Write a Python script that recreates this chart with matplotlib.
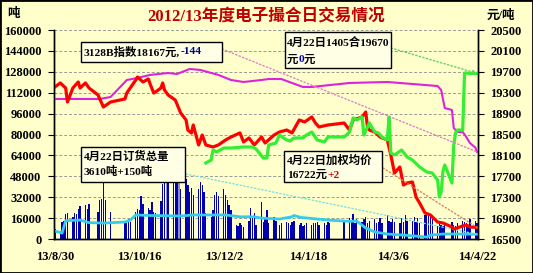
import matplotlib
matplotlib.use('Agg')
import matplotlib.pyplot as plt
import pandas as pd
from matplotlib.patches import Rectangle

W, H = 533, 273
fam = ['Liberation Serif', 'Noto Sans CJK SC']

start = pd.Timestamp('2013-08-30')
end = pd.Timestamp('2014-04-22')

# exchange holidays (no trading)
holidays = ['2013-09-19', '2013-09-20', '2013-10-01', '2013-10-02', '2013-10-03',
            '2013-10-04', '2013-10-07', '2014-01-01', '2014-01-31', '2014-02-03',
            '2014-02-04', '2014-02-05', '2014-02-06', '2014-04-07']

# daily volume (tons), one value per trading day
volume = [8000,
          6000, 13000, 14000, 19000, 20000,
          17000, 20000, 19000, 23000, 25000,
          26000, 23000, 27000,
          21000, 30000, 31000, 47000, 30000,
          21000,
          14000, 12000, 15000, 13000,
          21000, 23000, 22000, 33000, 27000,
          24000, 22000, 28000, 21000, 20000,
          29000, 42000, 45000, 52000, 44000,
          45000, 43000, 46000, 50000, 38000,
          46000, 41000, 36000, 39000, 34000,
          38000, 44000, 41000, 36000, 20000,
          17000, 22000, 34000, 36000, 33000,
          38000, 34000, 30000, 26000, 22000,
          11000, 10000, 12000, 11000, 9000,
          14000, 24000, 17000, 20000, 11000,
          28000, 13000, 16000, 22000, 12000,
          17000, 14000, 11000, 12000,
          13000, 12000, 11000, 13000, 14000,
          11000, 12000, 10000, 11000, 12000,
          11000, 12000, 12000, 13000, 11000,
          12000, 11000, 13000, 12000,
          13000,
          16000, 14000, 19000, 12000, 15000,
          13000, 15000, 17000, 12000, 14000,
          15000, 12000, 13000, 16000, 12000,
          18000, 14000, 13000, 15000, 13000,
          12000, 16000, 13000, 18000, 14000,
          14000, 17000, 13000, 16000, 12000,
          18000, 20000, 19000, 17000, 15000,
          10000, 12000, 11000, 10000, 12000,
          13000, 11000, 10000, 12000,
          14000, 13000, 12000, 11000, 15000,
          14000, 12000]

# total orders (tons), left axis
oi_dates = ['2013-08-30', '2013-09-02', '2013-09-03', '2013-09-05', '2013-09-13', '2013-09-18',
            '2013-09-26', '2013-10-08', '2013-10-11', '2013-10-14', '2013-10-22', '2013-11-01',
            '2013-11-08', '2013-11-15', '2013-12-03', '2013-12-11', '2013-12-19', '2013-12-23',
            '2014-01-02', '2014-01-09', '2014-01-10', '2014-01-14', '2014-01-29', '2014-02-10',
            '2014-02-14', '2014-02-19', '2014-02-24', '2014-03-03', '2014-03-12', '2014-03-25',
            '2014-03-27', '2014-04-03', '2014-04-14', '2014-04-22']
oi_vals = [6000, 5000, 4500, 14000, 14500, 12500, 12200, 13000, 14500, 18400, 18000, 17800,
           17600, 18400, 18400, 17000, 17000, 16000, 15300, 17000, 18000, 16500, 14500, 13500,
           13800, 8400, 5400, 3800, 3000, 1500, 3000, 3800, 3800, 3610]

# weighted average price (yuan/ton), right axis
price_dates = ['2013-08-30', '2013-09-02', '2013-09-05', '2013-09-06', '2013-09-09', '2013-09-12',
               '2013-09-13', '2013-09-16', '2013-09-18', '2013-09-23', '2013-09-26', '2013-09-30',
               '2013-10-08', '2013-10-09', '2013-10-14', '2013-10-15', '2013-10-18', '2013-10-21',
               '2013-10-22', '2013-10-24', '2013-10-25', '2013-10-28', '2013-10-29', '2013-10-30',
               '2013-11-01', '2013-11-05', '2013-11-08', '2013-11-11', '2013-11-12', '2013-11-14',
               '2013-11-15', '2013-11-18', '2013-11-20', '2013-11-22', '2013-11-26', '2013-11-29',
               '2013-12-03', '2013-12-06', '2013-12-11', '2013-12-13', '2013-12-16', '2013-12-19',
               '2013-12-23', '2013-12-25', '2013-12-30', '2014-01-02', '2014-01-06', '2014-01-09',
               '2014-01-13', '2014-01-16', '2014-01-20', '2014-01-22', '2014-01-24', '2014-01-29',
               '2014-02-07', '2014-02-10', '2014-02-12', '2014-02-17', '2014-02-19', '2014-02-20',
               '2014-02-21', '2014-02-24', '2014-02-27', '2014-03-03', '2014-03-05', '2014-03-07',
               '2014-03-10', '2014-03-12', '2014-03-14', '2014-03-17', '2014-03-19', '2014-03-21',
               '2014-03-24', '2014-03-27', '2014-03-31', '2014-04-03', '2014-04-08', '2014-04-09',
               '2014-04-14', '2014-04-16', '2014-04-18', '2014-04-22']
price_vals = [19410, 19486, 19390, 19122, 19390, 19505, 19390, 19486, 19390, 19256, 19026, 19122,
              19180, 19294, 19543, 19600, 19505, 19562, 19467, 19294, 19313, 19390, 19486, 19352,
              19256, 19160, 18912, 18778, 18586, 18528, 18682, 18300, 18490, 18300, 18261, 18300,
              18395, 18452, 18530, 18357, 18433, 18300, 18452, 18337, 18490, 18548, 18586, 18530,
              18778, 18740, 18835, 18720, 18644, 18682, 18720, 18586, 18778, 18835, 18930, 18644,
              18586, 18548, 18452, 18395, 18108, 17763, 17878, 17533, 17572, 17591, 17304, 17189,
              16998, 16960, 16825, 16806, 16730, 16690, 16749, 16768, 16730, 16722]

# 1405 contract
fut_dates = ['2013-11-22', '2013-11-25', '2013-11-26', '2013-11-28', '2013-12-02', '2013-12-06',
             '2013-12-13', '2013-12-18', '2013-12-20', '2013-12-24', '2013-12-26', '2013-12-27',
             '2013-12-31', '2014-01-02', '2014-01-06', '2014-01-08', '2014-01-10', '2014-01-15',
             '2014-01-17', '2014-01-20', '2014-01-23', '2014-01-27', '2014-01-29', '2014-02-07',
             '2014-02-10', '2014-02-12', '2014-02-14', '2014-02-17', '2014-02-18', '2014-02-21',
             '2014-02-24', '2014-02-26', '2014-02-28', '2014-03-03', '2014-03-04', '2014-03-05',
             '2014-03-07', '2014-03-11', '2014-03-14', '2014-03-17', '2014-03-21', '2014-03-25',
             '2014-03-28', '2014-03-31', '2014-04-01', '2014-04-02', '2014-04-03', '2014-04-04',
             '2014-04-08', '2014-04-09', '2014-04-10', '2014-04-11', '2014-04-14', '2014-04-15',
             '2014-04-16', '2014-04-17', '2014-04-18', '2014-04-21', '2014-04-22']
fut_vals = [17955, 18012, 18203, 18165, 18241, 18241, 18261, 18261, 18222, 18050, 18050, 18300,
            18337, 18490, 18395, 18376, 18433, 18433, 18490, 18548, 18395, 18357, 18452, 18452,
            18548, 18816, 18778, 18835, 18490, 18720, 18548, 18530, 18452, 18395, 18835, 18146,
            18108, 18203, 18070, 18012, 17878, 17782, 17763, 17629, 17304, 17400, 17800, 17916,
            17572, 18300, 18530, 18586, 18586, 19677, 19677, 19670, 19670, 19670, 19670]

# 3128B index
idx_dates = ['2013-08-30', '2013-09-24', '2013-09-30', '2013-10-08', '2013-10-09', '2013-10-15',
             '2013-10-22', '2013-11-01', '2013-11-06', '2013-11-13', '2013-11-19', '2013-11-29',
             '2013-12-06', '2013-12-13', '2013-12-23', '2013-12-27', '2014-01-03', '2014-01-15',
             '2014-01-20', '2014-02-10', '2014-03-03', '2014-03-17', '2014-03-31', '2014-04-02',
             '2014-04-04', '2014-04-08', '2014-04-09', '2014-04-11', '2014-04-14', '2014-04-16',
             '2014-04-18', '2014-04-21', '2014-04-22']
idx_vals = [19180, 19180, 19218, 19505, 19543, 19582, 19640, 19677, 19658, 19754, 19735, 19640,
            19543, 19505, 19543, 19562, 19562, 19410, 19410, 19486, 19505, 19467, 19428, 19352,
            19007, 18969, 18625, 18548, 18548, 18452, 18337, 18250, 18167]

xtick_dates = ['2013-08-30', '2013-10-16', '2013-12-02', '2014-01-18', '2014-03-06', '2014-04-22']
xtick_labels = ['13/8/30', '13/10/16', '13/12/2', '14/1/18', '14/3/6', '14/4/22']


def days(dates):
    return list((pd.to_datetime(dates) - start).days)


trade_days = pd.bdate_range(start, end).drop(pd.to_datetime(holidays))
xb = list((trade_days - start).days)

bg = '#FFFFCC'
fig = plt.figure(figsize=(W / 100, H / 100), dpi=100, facecolor=bg)
ax = fig.add_axes([54 / W, 1 - 239 / H, (478 - 54) / W, (239 - 30) / H])
ax.set_facecolor(bg)
ax2 = ax.twinx()

bar_colors = ['#9090C0' if v >= 50000 else '#0000B0' for v in volume]
# white slot behind each bar, blue bar on top
ax.bar(xb, volume, width=1.0, color='white', zorder=2)
ax.bar(xb, volume, width=0.75, color=bar_colors, zorder=2.5)
ax.plot(days(oi_dates), oi_vals, color='#33CCEE', lw=2, zorder=3)

ax2.plot(days(idx_dates), idx_vals, color='#DD22DD', lw=1.5)
ax2.plot(days(price_dates), price_vals, color='#FF0000', lw=2.3)
ax2.plot(days(fut_dates), fut_vals, color='#33EE33', lw=2.3)

ax.set_xlim(-0.5, (end - start).days + 0.5)
ax.set_ylim(0, 160000)
ax2.set_ylim(16500, 20500)
ax.set_yticks(range(0, 160001, 16000))
ax2.set_yticks(range(16500, 20501, 400))
ax.set_xticks(days(xtick_dates))
ax.set_xticklabels(xtick_labels)

ax.grid(axis='y', linestyle=(0, (3, 2)), color='#999999', lw=0.7)
ax.set_axisbelow(True)
for a in (ax, ax2):
    a.spines['top'].set_visible(False)
    for s in ('left', 'right', 'bottom'):
        a.spines[s].set_color('black')
        a.spines[s].set_linewidth(1)

ax.tick_params(axis='y', direction='out', length=4, pad=5)
ax2.tick_params(axis='y', direction='out', length=4, pad=5)
ax.tick_params(axis='x', length=0, pad=9)
for lab in ax.get_yticklabels() + ax2.get_yticklabels() + ax.get_xticklabels():
    lab.set_family(fam)
    lab.set_fontweight('bold')
    lab.set_fontsize(9)

# leader lines from the boxes to the last points
last = (end - start).days
ax2.annotate('', xy=(last, idx_vals[-1]), xytext=(222, H - 49), textcoords='figure pixels',
             arrowprops=dict(arrowstyle='-', color='#E080C8', linestyle=':', lw=1, shrinkA=0, shrinkB=0))
ax2.annotate('', xy=(last, fut_vals[-1]), xytext=(391, H - 48), textcoords='figure pixels',
             arrowprops=dict(arrowstyle='-|>', color='#60D060', linestyle=':', lw=1, shrinkA=0, shrinkB=0,
                             mutation_scale=6))
ax2.annotate('', xy=(last, price_vals[-1]), xytext=(383, H - 168), textcoords='figure pixels',
             arrowprops=dict(arrowstyle='-', color='#E08060', linestyle=':', lw=1, shrinkA=0, shrinkB=0))
ax.annotate('', xy=(last, oi_vals[-1]), xytext=(186, H - 174), textcoords='figure pixels',
            arrowprops=dict(arrowstyle='-', color='#80E0E0', linestyle=':', lw=1, shrinkA=0, shrinkB=0))

r = fig.canvas.get_renderer()


def box(x0, y0, x1, y1):
    fig.add_artist(Rectangle((x0 / W, 1 - y1 / H), (x1 - x0) / W, (y1 - y0) / H,
                             transform=fig.transFigure, facecolor='#FFFFE6',
                             edgecolor='black', lw=1, zorder=5))


def parts_text(x, y, parts):
    for s, c in parts:
        t = fig.text(x / W, 1 - y / H, s, color=c, fontsize=8.2, fontweight='bold',
                     family=fam, va='center', ha='left', zorder=6)
        x += t.get_window_extent(renderer=r).width


box(81, 42, 222, 62)
parts_text(84, 52, [('3128B指数18167元,', 'black'), ('-144', '#000080')])

box(285, 32, 391, 68)
parts_text(287, 43, [('4月22日1405合19670', 'black')])
parts_text(287, 60, [('元', 'black'), ('0', '#0000CC'), ('元', 'black')])

box(81, 147, 185, 182)
parts_text(84, 156, [('4月22日订货总量', 'black')])
parts_text(84, 172, [('3610吨+150吨', 'black')])

box(284, 151, 382, 182)
parts_text(287, 160, [('4月22日加权均价', 'black')])
parts_text(287, 175, [('16722元', 'black'), ('+2', '#E00000')])

fig.text(266 / W, 1 - 16 / H, '2012/13年度电子撮合日交易情况', color='#C00000', fontsize=12,
         fontweight='bold', family=fam, ha='center', va='center')
fig.text(13 / W, 1 - 14 / H, '吨', fontsize=9, fontweight='bold', family=fam, ha='center', va='center')
fig.text(501 / W, 1 - 16 / H, '元/吨', fontsize=9, fontweight='bold', family=fam, ha='center', va='center')

fig.add_artist(Rectangle((0, 0), 1, 1, transform=fig.transFigure, fill=False,
                         edgecolor='black', lw=2))

fig.savefig('out.png', dpi=100, facecolor=bg)
